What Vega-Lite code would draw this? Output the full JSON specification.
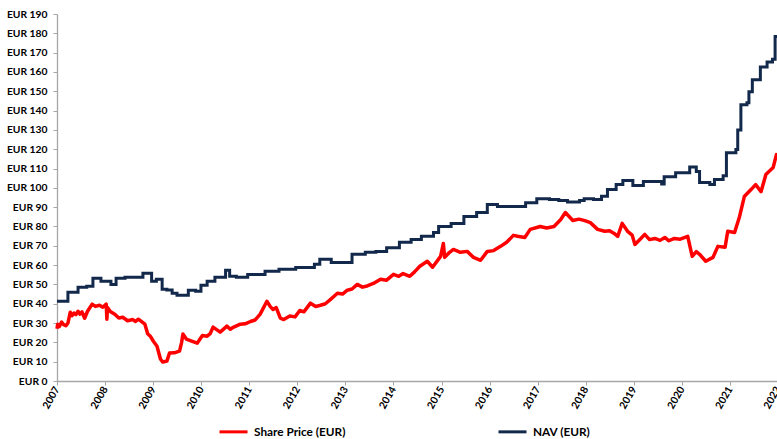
{
  "$schema": "https://vega.github.io/schema/vega-lite/v6.json",
  "autosize": {"type": "none"},
  "padding": {"left": 57, "top": 14, "right": 0, "bottom": 58},
  "width": 721,
  "height": 367,
  "background": "white",
  "config": {
    "view": {"stroke": null},
    "font": "Lato",
    "axis": {"labelFont": "Lato", "labelFontWeight": "bold", "labelColor": "#000000", "labelFontSize": 10.3, "grid": false, "domainColor": "#A6A6A6", "tickColor": "#A6A6A6", "tickSize": 4, "domainWidth": 1.3}
  },
  "datasets": {
    "price": [
      {"date": "2007-01-01", "value": 27}, {"date": "2007-01-06", "value": 29.4}, {"date": "2007-01-20", "value": 28.3}, {"date": "2007-02-05", "value": 30.5}, {"date": "2007-02-20", "value": 29.2}, {"date": "2007-03-10", "value": 28.6}, {"date": "2007-03-25", "value": 30}, {"date": "2007-04-12", "value": 35.6}, {"date": "2007-04-25", "value": 33.8}, {"date": "2007-05-10", "value": 35.2}, {"date": "2007-05-25", "value": 34.4}, {"date": "2007-06-10", "value": 36.1}, {"date": "2007-06-25", "value": 34.6}, {"date": "2007-07-10", "value": 35.8}, {"date": "2007-07-30", "value": 32.5}, {"date": "2007-08-20", "value": 36}, {"date": "2007-09-25", "value": 39.8}, {"date": "2007-10-20", "value": 38.6}, {"date": "2007-11-20", "value": 39.2}, {"date": "2007-12-15", "value": 38.2}, {"date": "2008-01-10", "value": 39.8}, {"date": "2008-01-15", "value": 32}, {"date": "2008-01-20", "value": 38}, {"date": "2008-02-10", "value": 36}, {"date": "2008-03-15", "value": 34.6}, {"date": "2008-04-15", "value": 32.6}, {"date": "2008-05-15", "value": 33}, {"date": "2008-06-20", "value": 31.2}, {"date": "2008-07-30", "value": 31.8}, {"date": "2008-08-20", "value": 30.8}, {"date": "2008-09-10", "value": 32}, {"date": "2008-10-30", "value": 29.4}, {"date": "2008-11-20", "value": 24.5}, {"date": "2008-12-10", "value": 23.2}, {"date": "2009-01-01", "value": 20.7}, {"date": "2009-01-30", "value": 18}, {"date": "2009-02-25", "value": 11.4}, {"date": "2009-03-15", "value": 9.8}, {"date": "2009-04-15", "value": 10.3}, {"date": "2009-05-05", "value": 14.5}, {"date": "2009-06-10", "value": 14.6}, {"date": "2009-07-20", "value": 15.5}, {"date": "2009-08-05", "value": 20}, {"date": "2009-08-15", "value": 24.3}, {"date": "2009-09-10", "value": 21.7}, {"date": "2009-10-15", "value": 20.8}, {"date": "2009-12-01", "value": 19.6}, {"date": "2010-01-10", "value": 23.6}, {"date": "2010-02-15", "value": 23.2}, {"date": "2010-03-10", "value": 24.5}, {"date": "2010-04-01", "value": 27.9}, {"date": "2010-05-25", "value": 25.3}, {"date": "2010-07-15", "value": 28.4}, {"date": "2010-08-10", "value": 26.8}, {"date": "2010-09-01", "value": 27.8}, {"date": "2010-10-25", "value": 29.4}, {"date": "2010-12-01", "value": 29.6}, {"date": "2011-01-10", "value": 30.8}, {"date": "2011-02-15", "value": 31.6}, {"date": "2011-03-25", "value": 34.6}, {"date": "2011-05-15", "value": 41.3}, {"date": "2011-06-10", "value": 38.5}, {"date": "2011-07-01", "value": 37}, {"date": "2011-07-25", "value": 38}, {"date": "2011-08-25", "value": 32.5}, {"date": "2011-09-20", "value": 31.8}, {"date": "2011-11-05", "value": 33.6}, {"date": "2011-12-15", "value": 33.2}, {"date": "2012-01-20", "value": 36.5}, {"date": "2012-02-20", "value": 35.8}, {"date": "2012-04-10", "value": 40.3}, {"date": "2012-05-20", "value": 38.6}, {"date": "2012-06-25", "value": 39.2}, {"date": "2012-08-01", "value": 40}, {"date": "2012-09-10", "value": 42.3}, {"date": "2012-11-01", "value": 45.4}, {"date": "2012-12-10", "value": 45}, {"date": "2013-01-15", "value": 47}, {"date": "2013-02-20", "value": 47.6}, {"date": "2013-04-01", "value": 50}, {"date": "2013-05-10", "value": 48.6}, {"date": "2013-06-15", "value": 49.2}, {"date": "2013-08-01", "value": 50.5}, {"date": "2013-09-25", "value": 52.7}, {"date": "2013-11-10", "value": 52.2}, {"date": "2014-01-01", "value": 55.2}, {"date": "2014-02-10", "value": 54.2}, {"date": "2014-03-15", "value": 55.6}, {"date": "2014-05-05", "value": 54.2}, {"date": "2014-06-10", "value": 56.5}, {"date": "2014-07-20", "value": 59.4}, {"date": "2014-09-15", "value": 62}, {"date": "2014-10-25", "value": 58.9}, {"date": "2014-12-25", "value": 64.5}, {"date": "2015-01-15", "value": 71.2}, {"date": "2015-01-25", "value": 64}, {"date": "2015-03-01", "value": 66.5}, {"date": "2015-04-01", "value": 68.1}, {"date": "2015-05-25", "value": 66.6}, {"date": "2015-07-15", "value": 67.1}, {"date": "2015-09-01", "value": 64}, {"date": "2015-10-25", "value": 62.5}, {"date": "2015-12-15", "value": 67.1}, {"date": "2016-02-01", "value": 67.5}, {"date": "2016-03-25", "value": 69.7}, {"date": "2016-05-10", "value": 71.8}, {"date": "2016-06-30", "value": 75.4}, {"date": "2016-08-01", "value": 74.9}, {"date": "2016-09-25", "value": 74.3}, {"date": "2016-11-05", "value": 78.5}, {"date": "2017-01-20", "value": 80}, {"date": "2017-03-10", "value": 79.2}, {"date": "2017-05-05", "value": 80}, {"date": "2017-06-25", "value": 83.6}, {"date": "2017-07-30", "value": 87.2}, {"date": "2017-09-25", "value": 83.1}, {"date": "2017-11-10", "value": 83.8}, {"date": "2017-12-25", "value": 83}, {"date": "2018-02-05", "value": 82}, {"date": "2018-04-01", "value": 78.5}, {"date": "2018-05-25", "value": 77.5}, {"date": "2018-07-01", "value": 77.8}, {"date": "2018-08-05", "value": 76.4}, {"date": "2018-09-01", "value": 74.9}, {"date": "2018-10-05", "value": 81.6}, {"date": "2018-11-15", "value": 77.5}, {"date": "2018-12-20", "value": 75.5}, {"date": "2019-01-10", "value": 70.7}, {"date": "2019-02-20", "value": 73.5}, {"date": "2019-03-25", "value": 75.9}, {"date": "2019-05-01", "value": 73.2}, {"date": "2019-06-10", "value": 73.8}, {"date": "2019-07-20", "value": 72.8}, {"date": "2019-08-25", "value": 74.3}, {"date": "2019-09-25", "value": 72.6}, {"date": "2019-11-05", "value": 73.8}, {"date": "2019-12-20", "value": 73.4}, {"date": "2020-02-15", "value": 74.9}, {"date": "2020-03-20", "value": 64.5}, {"date": "2020-04-20", "value": 67}, {"date": "2020-05-15", "value": 65.6}, {"date": "2020-07-01", "value": 62}, {"date": "2020-08-25", "value": 64}, {"date": "2020-10-01", "value": 69.7}, {"date": "2020-11-25", "value": 69.2}, {"date": "2020-12-15", "value": 77.5}, {"date": "2021-02-05", "value": 76.9}, {"date": "2021-03-15", "value": 85.2}, {"date": "2021-04-20", "value": 95.5}, {"date": "2021-06-10", "value": 99.1}, {"date": "2021-07-15", "value": 101.7}, {"date": "2021-08-25", "value": 98}, {"date": "2021-10-01", "value": 106.9}, {"date": "2021-11-25", "value": 110.5}, {"date": "2021-12-20", "value": 117.2}, {"date": "2022-01-01", "value": 116}
    ],
    "nav": [
      {"date": "2007-01-01", "value": 41.3}, {"date": "2007-03-25", "value": 46}, {"date": "2007-06-10", "value": 48.5}, {"date": "2007-08-15", "value": 49}, {"date": "2007-10-01", "value": 53.2}, {"date": "2007-12-01", "value": 51.6}, {"date": "2008-02-15", "value": 50}, {"date": "2008-03-25", "value": 53.2}, {"date": "2008-06-01", "value": 53.7}, {"date": "2008-10-15", "value": 55.8}, {"date": "2008-12-20", "value": 51.6}, {"date": "2009-01-25", "value": 52.7}, {"date": "2009-03-10", "value": 47.5}, {"date": "2009-04-15", "value": 47.1}, {"date": "2009-05-25", "value": 45.4}, {"date": "2009-07-01", "value": 44.4}, {"date": "2009-09-25", "value": 47}, {"date": "2009-11-20", "value": 46.5}, {"date": "2009-12-30", "value": 49.6}, {"date": "2010-02-15", "value": 51.6}, {"date": "2010-04-15", "value": 53.7}, {"date": "2010-07-05", "value": 57.3}, {"date": "2010-08-05", "value": 54.2}, {"date": "2010-09-25", "value": 53.7}, {"date": "2010-12-20", "value": 55.2}, {"date": "2011-05-01", "value": 56.8}, {"date": "2011-08-15", "value": 57.8}, {"date": "2011-12-20", "value": 58.8}, {"date": "2012-05-10", "value": 60.4}, {"date": "2012-06-20", "value": 63}, {"date": "2012-09-15", "value": 61.4}, {"date": "2013-02-20", "value": 65.6}, {"date": "2013-06-01", "value": 66.6}, {"date": "2013-08-20", "value": 67}, {"date": "2013-11-10", "value": 69}, {"date": "2014-02-15", "value": 71.8}, {"date": "2014-05-15", "value": 73.3}, {"date": "2014-08-01", "value": 75}, {"date": "2014-11-01", "value": 76.9}, {"date": "2014-12-10", "value": 80}, {"date": "2015-03-15", "value": 81.6}, {"date": "2015-06-20", "value": 85.2}, {"date": "2015-09-25", "value": 87.2}, {"date": "2015-12-15", "value": 91.4}, {"date": "2016-03-01", "value": 90.3}, {"date": "2016-07-01", "value": 90.4}, {"date": "2016-10-01", "value": 92.3}, {"date": "2016-12-25", "value": 94.4}, {"date": "2017-04-01", "value": 94}, {"date": "2017-06-10", "value": 93.4}, {"date": "2017-08-15", "value": 92.7}, {"date": "2017-11-15", "value": 93.5}, {"date": "2017-12-20", "value": 94.4}, {"date": "2018-03-01", "value": 94}, {"date": "2018-05-01", "value": 95.7}, {"date": "2018-06-15", "value": 99.1}, {"date": "2018-08-20", "value": 101.7}, {"date": "2018-10-10", "value": 103.8}, {"date": "2018-12-25", "value": 101.2}, {"date": "2019-03-15", "value": 103.3}, {"date": "2019-08-01", "value": 102}, {"date": "2019-08-20", "value": 105.8}, {"date": "2019-11-15", "value": 107.8}, {"date": "2020-03-01", "value": 110.8}, {"date": "2020-04-20", "value": 108.5}, {"date": "2020-05-15", "value": 102.8}, {"date": "2020-08-01", "value": 101.7}, {"date": "2020-09-05", "value": 104.3}, {"date": "2020-11-10", "value": 106.3}, {"date": "2020-12-05", "value": 118.2}, {"date": "2021-02-15", "value": 119.8}, {"date": "2021-03-01", "value": 130}, {"date": "2021-03-25", "value": 143}, {"date": "2021-05-10", "value": 144}, {"date": "2021-05-25", "value": 149.7}, {"date": "2021-06-20", "value": 156}, {"date": "2021-08-20", "value": 162.6}, {"date": "2021-10-10", "value": 165.2}, {"date": "2021-11-20", "value": 166.6}, {"date": "2021-12-10", "value": 178.3}, {"date": "2022-01-01", "value": 178.3}
    ]
  },
  "encoding": {
    "x": {
      "field": "date", "type": "temporal",
      "scale": {"domain": ["2007-01-01T00:00:00", "2022-01-01T00:00:00"]},
      "axis": {"title": null, "format": "%Y", "tickCount": {"interval": "year", "step": 1}, "labelAngle": -60, "labelAlign": "right", "labelBaseline": "middle", "labelPadding": 2, "labelOverlap": false, "labelBound": false, "labelFlush": false}
    },
    "y": {
      "field": "value", "type": "quantitative",
      "scale": {"domain": [0, 190], "nice": false, "zero": true},
      "axis": {"title": null, "values": [0,10,20,30,40,50,60,70,80,90,100,110,120,130,140,150,160,170,180,190], "labelExpr": "'EUR ' + datum.value", "labelPadding": 6}
    }
  },
  "layer": [
    {
      "data": {"name": "price"},
      "mark": {"type": "line", "strokeWidth": 3.5, "interpolate": "linear", "strokeJoin": "round"},
      "encoding": {
        "color": {
          "datum": "Share Price (EUR)", "type": "nominal",
          "scale": {"domain": ["Share Price (EUR)", "NAV (EUR)"], "range": ["#FF0000", "#13294B"]},
          "legend": {"title": null, "orient": "none", "direction": "horizontal", "legendX": 161, "legendY": 402, "symbolType": "stroke", "symbolSize": 784, "symbolStrokeWidth": 3, "labelFont": "Lato", "labelFontWeight": "bold", "labelFontSize": 11.8, "labelColor": "#000000", "labelOffset": 5, "columnPadding": 146, "labelLimit": 300}
        }
      }
    },
    {
      "data": {"name": "nav"},
      "mark": {"type": "line", "strokeWidth": 3, "interpolate": "step-after"},
      "encoding": {
        "color": {"datum": "NAV (EUR)", "type": "nominal"}
      }
    }
  ]
}
